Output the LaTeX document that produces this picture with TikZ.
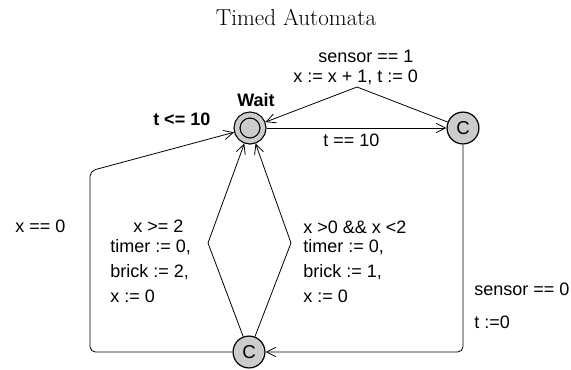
\documentclass[tikz,border=0pt]{standalone}
\usepackage{fontspec}
\setsansfont{Liberation Sans}
\usetikzlibrary{arrows.meta}
\begin{document}
\begin{tikzpicture}[x=0.75pt,y=-0.75pt,
  loc/.style={circle, draw, fill=gray!40, line width=0.9pt, minimum size=23.9pt, inner sep=0pt,
    font=\sffamily\fontsize{14}{14}\selectfont},
  edge/.style={line width=0.6pt, -{Straight Barb[length=7pt,width=7pt]}},
  lbl/.style={font=\sffamily\fontsize{13.5}{18.4}\selectfont, inner sep=0pt, anchor=base west, align=left}]
  \useasboundingbox (0,0) rectangle (571,369);
  \node[font=\fontsize{17.3}{20}\selectfont, anchor=base] (title) at (296,25) {Timed Automata};
  \node[loc, minimum size=19.5pt, double=gray!40, double distance=3.5pt, outer sep=2.65pt] (wait) at (250,128) {};
  \node[loc] (rc) at (463,128) {C};
  \node[loc] (bc) at (249,352) {C};
  \coordinate (peak) at (357,87);
  \coordinate (lv) at (208,243);
  \coordinate (rv) at (291,243);
  \coordinate (nw) at (90,171);
  \coordinate (sw) at (90,352);
  \coordinate (se) at (463,352);
  \draw[edge] (wait) -- (rc);
  \draw[edge] (rc) -- (peak) -- (wait);
  \draw[edge] (bc) -- (lv) -- (wait);
  \draw[edge] (bc) -- (rv) -- (wait);
  \draw[edge, rounded corners=4pt] (bc) -- (sw) -- (nw) -- (wait);
  \draw[edge, rounded corners=4pt] (rc) -- (se) -- (bc);
  \node[lbl, font=\sffamily\bfseries\fontsize{13.5}{18.4}\selectfont] (name) at (237,106) {Wait};
  \node[lbl, font=\sffamily\bfseries\fontsize{13.5}{18.4}\selectfont] (inv) at (153,125) {t <= 10};
  \node[lbl] (g1) at (318,62) {sensor == 1};
  \node[lbl] (a1) at (293,82) {x := x + 1, t := 0};
  \node[lbl] (g2) at (323,146) {t == 10};
  \node[lbl] (g3) at (15,232) {x == 0};
  \node[lbl] (g4) at (133,232) {x >= 2};
  \node[lbl] (a4) at (110,302) {timer := 0,\\brick := 2,\\x := 0};
  \node[lbl] (g5) at (303,233) {x >0 \&\& x <2};
  \node[lbl] (a5) at (303,302) {timer := 0,\\brick := 1,\\x := 0};
  \node[lbl] (g6) at (474,295) {sensor == 0};
  \node[lbl] (a6) at (474,328) {t :=0};
\end{tikzpicture}
\end{document}
